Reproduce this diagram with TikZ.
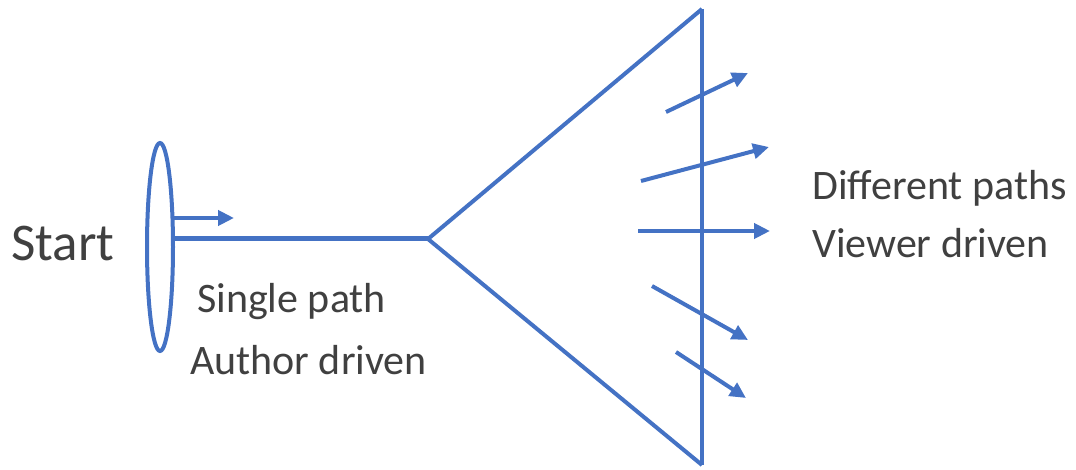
\documentclass[tikz,border=0pt]{standalone}
\usepackage{fontspec}
\setmainfont{Carlito}
\usetikzlibrary{arrows.meta,shapes.geometric}
\definecolor{lblue}{HTML}{4472C4}
\definecolor{txt}{HTML}{404040}
\begin{document}
\begin{tikzpicture}[x=1pt,y=-1pt,
  ln/.style={draw=lblue,line width=4pt},
  arr/.style={draw=lblue,line width=4pt,-{Triangle[length=16pt,width=15pt]}},
  lbl/.style={text=txt,font=\fontsize{42}{50}\selectfont,anchor=west,inner sep=0pt}]
\useasboundingbox (0,0) rectangle (1076,470);
% coordinates
\coordinate (apex) at (428,239);
\coordinate (top) at (702,9);
\coordinate (bot) at (702,465);
\coordinate (ec) at (160,247);
\coordinate (hs) at (173,239);
\coordinate (as) at (173,218);
\coordinate (ae) at (234,218);
\coordinate (a1s) at (666,112); \coordinate (a1e) at (748,73);
\coordinate (a2s) at (641,181); \coordinate (a2e) at (769,147);
\coordinate (a3s) at (638,231); \coordinate (a3e) at (770,231);
\coordinate (a4s) at (652,286); \coordinate (a4e) at (748,340);
\coordinate (a5s) at (676,352); \coordinate (a5e) at (746,398);
% ellipse
\node[draw=lblue,line width=4pt,ellipse,minimum width=26pt,minimum height=208pt,inner sep=0pt] (ell) at (ec) {};
% lines
\draw[draw=lblue,line width=5pt] (hs) -- (apex);
\draw[ln,line join=miter] (top) -- (apex) -- (bot);
\draw[ln] (top) -- (bot);
\draw[arr] (as) -- (ae);
\draw[arr] (a1s) -- (a1e);
\draw[arr] (a2s) -- (a2e);
\draw[arr] (a3s) -- (a3e);
\draw[arr] (a4s) -- (a4e);
\draw[arr] (a5s) -- (a5e);
% text
\node[lbl,font=\fontsize{53}{61}\selectfont] (start) at (11,243) {Start};
\node[lbl] (sp) at (197,302) {Single path};
\node[lbl] (ad) at (190,360) {Author driven};
\node[lbl] (dp) at (812,188) {Different paths};
\node[lbl] (vd) at (812,243) {Viewer driven};
\end{tikzpicture}
\end{document}
